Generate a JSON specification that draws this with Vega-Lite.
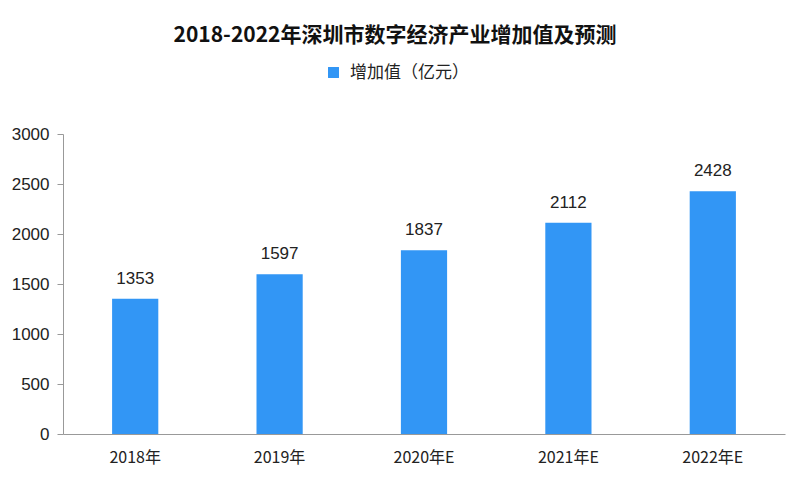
{
  "$schema": "https://vega.github.io/schema/vega-lite/v6.json",
  "width": 722,
  "height": 300,
  "autosize": {"type": "none"},
  "padding": {"left": 63, "top": 134, "right": 13, "bottom": 47},
  "background": "white",
  "config": {"view": {"stroke": null}},
  "title": {
    "text": "2018-2022年深圳市数字经济产业增加值及预测",
    "font": "Noto Sans CJK SC",
    "fontSize": 21,
    "fontWeight": "bold",
    "color": "#111",
    "anchor": "middle",
    "frame": "group",
    "dx": -29,
    "offset": 18
  },
  "data": {
    "values": [
      {"year": "2018年", "value": 1353, "series": "增加值（亿元）"},
      {"year": "2019年", "value": 1597, "series": "增加值（亿元）"},
      {"year": "2020年E", "value": 1837, "series": "增加值（亿元）"},
      {"year": "2021年E", "value": 2112, "series": "增加值（亿元）"},
      {"year": "2022年E", "value": 2428, "series": "增加值（亿元）"}
    ]
  },
  "encoding": {
    "x": {
      "field": "year",
      "type": "nominal",
      "sort": null,
      "scale": {"paddingInner": 0.68, "paddingOuter": 0.34},
      "axis": {
        "title": null,
        "labelAngle": 0,
        "ticks": false,
        "domainColor": "#999",
        "labelFont": "Noto Sans CJK SC",
        "labelFontSize": 16,
        "labelColor": "#222",
        "labelPadding": 15
      }
    },
    "y": {
      "field": "value",
      "type": "quantitative",
      "scale": {"domain": [0, 3000]},
      "axis": {
        "title": null,
        "values": [0, 500, 1000, 1500, 2000, 2500, 3000],
        "format": "d",
        "grid": false,
        "domainColor": "#999",
        "tickColor": "#999",
        "tickSize": 6,
        "labelFont": "Liberation Sans",
        "labelFontSize": 17,
        "labelColor": "#222",
        "labelPadding": 8
      }
    }
  },
  "layer": [
    {
      "mark": {"type": "bar", "color": "#3296F5"},
      "encoding": {
        "color": {
          "field": "series",
          "type": "nominal",
          "scale": {"range": ["#3296F5"]},
          "legend": {
            "title": null,
            "orient": "none",
            "legendX": 262,
            "legendY": -70,
            "symbolType": "square",
            "symbolSize": 120,
            "symbolOpacity": 1,
            "labelFont": "Noto Sans CJK SC",
            "labelFontSize": 17,
            "labelColor": "#222",
            "labelOffset": 8
          }
        }
      }
    },
    {
      "mark": {
        "type": "text",
        "baseline": "bottom",
        "dy": -11,
        "font": "Liberation Sans",
        "fontSize": 17,
        "color": "#222"
      },
      "encoding": {"text": {"field": "value", "type": "quantitative"}}
    }
  ]
}
